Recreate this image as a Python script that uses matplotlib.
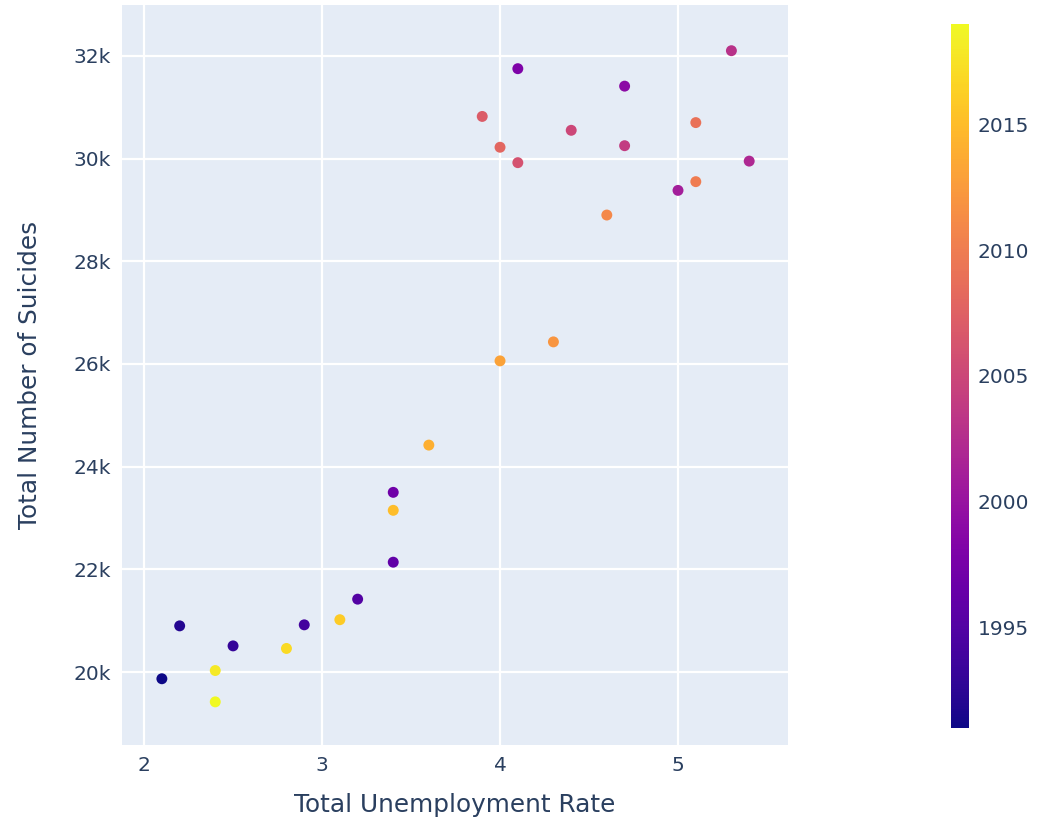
import matplotlib
matplotlib.use('Agg')
import matplotlib.pyplot as plt
from matplotlib.ticker import FuncFormatter

plt.rcParams['font.family'] = ['DejaVu Sans']

# Japan: unemployment rate vs number of suicides, coloured by year
years = [1991, 1992, 1993, 1994, 1995, 1996, 1997, 1998, 1999,
         2001, 2002, 2003, 2004, 2005, 2006, 2007, 2008, 2009, 2010,
         2011, 2012, 2013, 2014, 2015, 2016, 2017, 2018, 2019]
unemployment = [2.1, 2.2, 2.5, 2.9, 3.2, 3.4, 3.4, 4.1, 4.7,
                5.0, 5.4, 5.3, 4.7, 4.4, 4.1, 3.9, 4.0, 5.1, 5.1,
                4.6, 4.3, 4.0, 3.6, 3.4, 3.1, 2.8, 2.4, 2.4]
suicides = [19870, 20900, 20510, 20920, 21420, 22140, 23500, 31750, 31410,
            29380, 29950, 32100, 30250, 30550, 29920, 30820, 30220, 30700, 29550,
            28900, 26430, 26060, 24420, 23150, 21020, 20460, 20030, 19420]

text_col = '#2a3f5f'

fig = plt.figure(figsize=(10.48, 8.24), dpi=100)
ax = fig.add_axes([122 / 1048, 1 - 745 / 824, 666 / 1048, 740 / 824])
ax.set_facecolor('#E5ECF6')
ax.grid(True, color='white', linewidth=1.6)
ax.set_axisbelow(True)
for s in ax.spines.values():
    s.set_visible(False)

sc = ax.scatter(unemployment, suicides, c=years, cmap='plasma',
                vmin=1991, vmax=2019, s=62, linewidths=0, zorder=3)

ax.set_xlim(1.876, 5.618)
ax.set_ylim(18580, 32990)
ax.set_xticks([2, 3, 4, 5])
ax.set_yticks([20000, 22000, 24000, 26000, 28000, 30000, 32000])
ax.yaxis.set_major_formatter(FuncFormatter(lambda v, p: f'{int(v / 1000)}k'))
ax.tick_params(length=0, labelsize=14.5, colors=text_col, pad=8)

ax.set_xlabel('Total Unemployment Rate', fontsize=17.8, color=text_col, va='center')
ax.set_ylabel('Total Number of Suicides', fontsize=17.8, color=text_col, va='center')
ax.xaxis.set_label_coords(0.5, -0.081)
ax.yaxis.set_label_coords(-0.138, 0.5)

cax = fig.add_axes([951 / 1048, 1 - 728 / 824, 18 / 1048, 704 / 824])
cb = fig.colorbar(sc, cax=cax)
cb.outline.set_visible(False)
cb.set_ticks([1995, 2000, 2005, 2010, 2015])
cax.tick_params(length=0, labelsize=14.5, colors=text_col, pad=6)

fig.savefig('out.png', dpi=100)
